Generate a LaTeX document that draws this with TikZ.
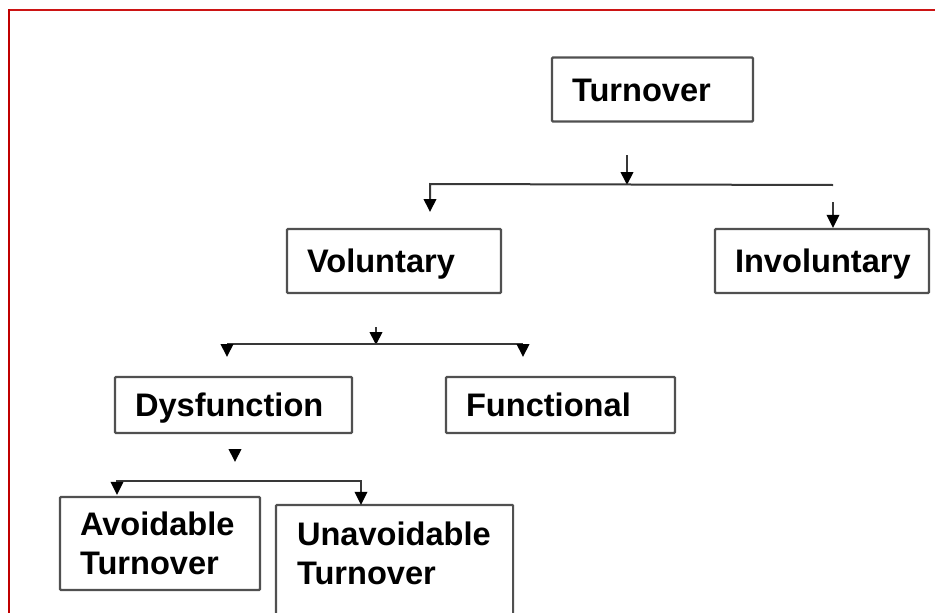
\documentclass[tikz,border=0pt]{standalone}
\usepackage{fontspec}
\setmainfont{Liberation Sans}
\usetikzlibrary{arrows.meta}
\definecolor{frameRed}{HTML}{C00000}
\definecolor{frameTop}{HTML}{CC1414}
\definecolor{boxEdge}{HTML}{505050}
\definecolor{wire}{HTML}{383838}
\tikzset{
  box/.style={draw=boxEdge, line width=2.2pt, rounded corners=1pt, fill=white,
    inner xsep=20pt, inner ysep=0pt, align=left,
    font=\fontsize{32.6}{39}\selectfont\bfseries},
  plainbox/.style={box, draw=none, fill=none},
  single/.style={text height=23pt, text depth=0pt},
  wireline/.style={draw=wire, line width=2pt},
  tip/.tip={Triangle[length=13pt,width=12.5pt,fill=black,color=black]},
  arr/.style={wireline, -tip},
  arrboth/.style={wireline, tip-tip}
}
\begin{document}
\begin{tikzpicture}[x=1pt,y=-1pt]
\useasboundingbox (0,0) rectangle (935,613);
\clip (0,0) rectangle (935,613);
\fill[white] (0,0) rectangle (935,613);

% frame
\draw[frameTop, line width=2pt] (8,9.5) -- (935,9.5);
\draw[frameRed, line width=2.4pt] (9,9) -- (9,613);

% boxes
\node[box, single, minimum width=201pt, text width=161pt, minimum height=64pt] (turn) at (652.5,89.5) {Turnover};
\node[box, single, minimum width=214pt, text width=174pt, minimum height=64pt] (vol) at (394,261) {Voluntary};
\node[box, single, minimum width=214pt, text width=174pt, minimum height=64pt] (invol) at (822,261) {Involuntary};
\node[box, single, minimum width=237pt, text width=197pt, minimum height=56pt] (dys) at (233.5,405) {Dysfunction};
\node[box, single, minimum width=229pt, text width=189pt, minimum height=56pt] (func) at (560.5,405) {Functional};
\node[box, minimum width=200pt, text width=160pt, minimum height=93pt] (avoid) at (160,543.5) {Avoidable\\Turnover};
\node[plainbox, minimum width=235pt, text width=195pt, minimum height=94pt] (unavoid) at (394.5,553) {Unavoidable\\Turnover};
\coordinate (below) at (0,630);
\draw[draw=boxEdge, line width=2.2pt, rounded corners=1pt] (unavoid.south west |- below) -- (unavoid.north west) -- (unavoid.north east) -- (unavoid.south east |- below);

% Turnover splits into voluntary and involuntary
\coordinate (t0) at (627,155);
\coordinate (t1) at (627,185);
\coordinate (tl) at (430,184);
\coordinate (tr) at (833,185);
\coordinate (tlTip) at (430,212);
\coordinate (trStart) at (833,202);
\draw[arr] (t0) -- (t1);
\draw[arr] (tr) -- (tl) -- (tlTip);
\draw[arr] (trStart) -- (trStart |- invol.north);

% Voluntary splits into dysfunctional and functional
\coordinate (v0) at (376,327);
\coordinate (v1) at (376,345);
\coordinate (vl) at (227,344);
\coordinate (vr) at (523,344);
\coordinate (vlTip) at (227,357);
\coordinate (vrTip) at (523,357);
\draw[arr] (v0) -- (v1);
\draw[wireline] (vl) -- (vr);
\draw[arr] (vl) -- (vlTip);
\draw[arr] (vr) -- (vrTip);

% Dysfunction splits into avoidable and unavoidable
\coordinate (d0) at (235,449);
\coordinate (d1) at (235,462);
\coordinate (dl) at (117,481);
\coordinate (dr) at (361,481);
\draw[arr] (d0) -- (d1);
\draw[arrboth] ([yshift=1pt]avoid.north -| dl) -- (dl) -- (dr) -- (unavoid.north -| dr);
\end{tikzpicture}
\end{document}
